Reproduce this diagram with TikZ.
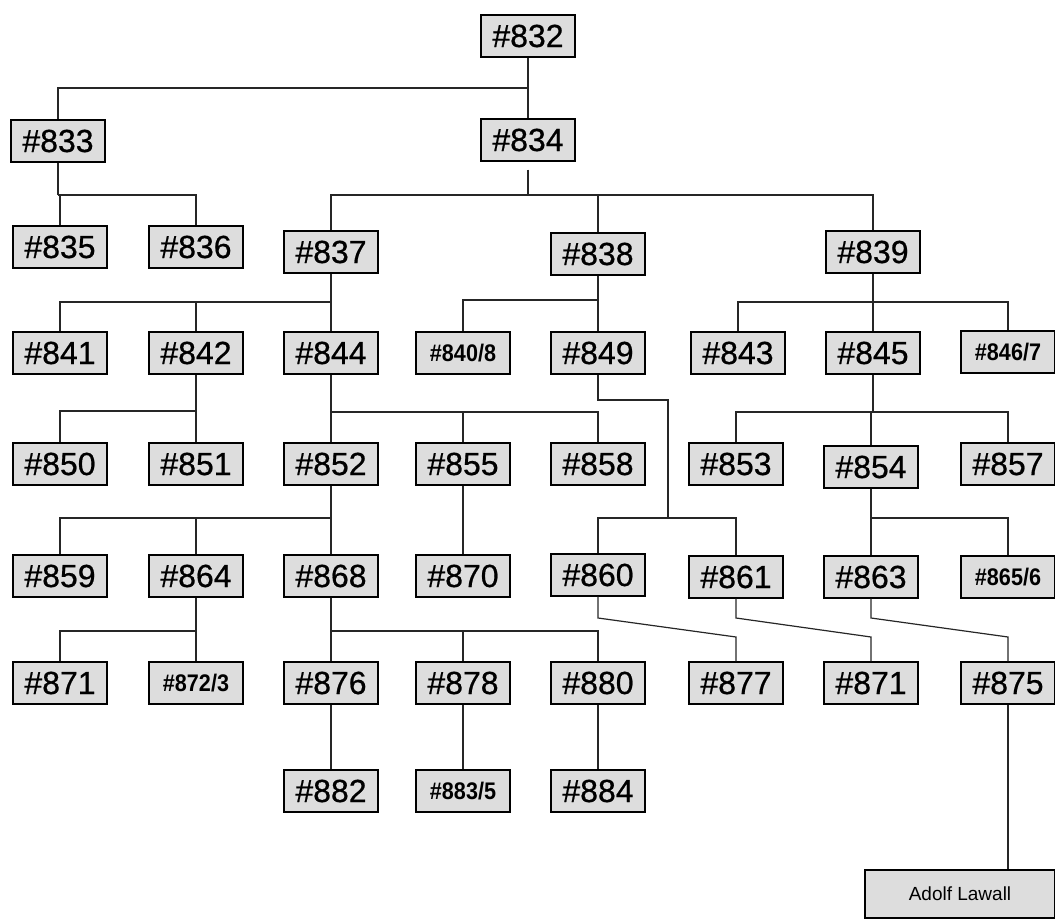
\documentclass[tikz,border=0pt]{standalone}
\usepackage{fontspec}
\setmainfont{Liberation Sans}
\usepackage{tikz}
\usetikzlibrary{positioning,calc}
\definecolor{boxgray}{HTML}{DDDDDD}
\newfontfamily\heavyfam[FakeBold=0.6]{Liberation Sans}
\newfontfamily\boldfam[FakeStretch=0.9]{Liberation Sans Bold}
\newcommand{\bigfont}{\heavyfam\fontsize{32}{32}\selectfont}
\newcommand{\smallfont}{\boldfam\fontsize{24}{24}\selectfont}
\newcommand{\namefont}{\fontsize{19}{19}\selectfont}
\tikzset{
  pbox/.style={draw=black,fill=boxgray,line width=1.3pt,minimum width=94pt,minimum height=42pt,inner sep=0pt,font=\bigfont},
  sbox/.style={pbox,font=\smallfont},
  nbox/.style={pbox,minimum width=190pt,minimum height=48pt,font=\namefont},
  link/.style={line width=1.2pt,draw=black!85}
}
\begin{document}
\begin{tikzpicture}[x=1pt,y=-1pt]
  \useasboundingbox (0,0) rectangle (1055,923);
  % boxes, row by row
  \node[pbox] (n832) at (528,36) {\#832};
  \node[pbox] (n833) at (58,141) {\#833};
  \node[pbox] (n834) at (528,140) {\#834};
  \node[pbox] (n835) at (60,247) {\#835};
  \node[pbox] (n836) at (196,247) {\#836};
  \node[pbox] (n837) at (331,252) {\#837};
  \node[pbox] (n838) at (598,254) {\#838};
  \node[pbox] (n839) at (873,252) {\#839};
  \node[pbox] (n841) at (60,353) {\#841};
  \node[pbox] (n842) at (196,353) {\#842};
  \node[pbox] (n844) at (331,353) {\#844};
  \node[sbox] (n840) at (463,353) {\#840/8};
  \node[pbox] (n849) at (598,353) {\#849};
  \node[pbox] (n843) at (738,353) {\#843};
  \node[pbox] (n845) at (873,353) {\#845};
  \node[sbox] (n846) at (1008,352) {\#846/7};
  \node[pbox] (n850) at (60,464) {\#850};
  \node[pbox] (n851) at (196,464) {\#851};
  \node[pbox] (n852) at (331,464) {\#852};
  \node[pbox] (n855) at (463,464) {\#855};
  \node[pbox] (n858) at (598,464) {\#858};
  \node[pbox] (n853) at (736,464) {\#853};
  \node[pbox] (n854) at (871,467) {\#854};
  \node[pbox] (n857) at (1008,464) {\#857};
  \node[pbox] (n859) at (60,576) {\#859};
  \node[pbox] (n864) at (196,576) {\#864};
  \node[pbox] (n868) at (331,576) {\#868};
  \node[pbox] (n870) at (463,576) {\#870};
  \node[pbox] (n860) at (598,575) {\#860};
  \node[pbox] (n861) at (736,577) {\#861};
  \node[pbox] (n863) at (871,577) {\#863};
  \node[sbox] (n865) at (1008,577) {\#865/6};
  \node[pbox] (n871a) at (60,683) {\#871};
  \node[sbox] (n872) at (196,683) {\#872/3};
  \node[pbox] (n876) at (331,683) {\#876};
  \node[pbox] (n878) at (463,683) {\#878};
  \node[pbox] (n880) at (598,683) {\#880};
  \node[pbox] (n877) at (736,683) {\#877};
  \node[pbox] (n871b) at (871,683) {\#871};
  \node[pbox] (n875) at (1008,683) {\#875};
  \node[pbox] (n882) at (331,791) {\#882};
  \node[sbox] (n883) at (463,791) {\#883/5};
  \node[pbox] (n884) at (598,791) {\#884};
  \node[nbox] (nadolf) at (960,894) {Adolf Lawall};
  % connectors
  \draw[link] (n832.south) -- (n834.north);
  \draw[link] (n832.south |- 0,88) -| (n833.north);
  \draw[link] (n833.south) -- (n833.south |- 0,195);
  \draw[link] (n833.south |- 0,195) -| (n835.north);
  \draw[link] (n833.south |- 0,195) -| (n836.north);
  \draw[link] ([yshift=-8pt]n834.south) -- (n834.south |- 0,195);
  \draw[link] (n834.south |- 0,195) -| (n837.north);
  \draw[link] (n834.south |- 0,195) -| (n838.north);
  \draw[link] (n834.south |- 0,195) -| (n839.north);
  \draw[link] (n837.south) -- (n837.south |- 0,302);
  \draw[link] (n837.south |- 0,302) -| (n841.north);
  \draw[link] (n837.south |- 0,302) -| (n842.north);
  \draw[link] (n837.south |- 0,302) -| (n844.north);
  \draw[link] (n838.south) -- (n838.south |- 0,300);
  \draw[link] (n838.south |- 0,300) -| (n840.north);
  \draw[link] (n838.south |- 0,300) -| (n849.north);
  \draw[link] (n839.south) -- (n839.south |- 0,302);
  \draw[link] (n839.south |- 0,302) -| (n843.north);
  \draw[link] (n839.south |- 0,302) -| (n845.north);
  \draw[link] (n839.south |- 0,302) -| (n846.north);
  \draw[link] (n842.south) -- (n842.south |- 0,411);
  \draw[link] (n842.south |- 0,411) -| (n850.north);
  \draw[link] (n842.south |- 0,411) -| (n851.north);
  \draw[link] (n844.south) -- (n844.south |- 0,412);
  \draw[link] (n844.south |- 0,412) -| (n852.north);
  \draw[link] (n844.south |- 0,412) -| (n855.north);
  \draw[link] (n844.south |- 0,412) -| (n858.north);
  \draw[link] (n845.south) -- (n845.south |- 0,412);
  \draw[link] (n845.south |- 0,412) -| (n853.north);
  \draw[link] (n845.south |- 0,412) -| (n854.north);
  \draw[link] (n845.south |- 0,412) -| (n857.north);
  \coordinate (j849) at (668,518);
  \draw[link] (n849.south) |- (j849 |- 0,400) -- (j849) -| (n860.north);
  \draw[link] (j849) -| (n861.north);
  \draw[link] (n852.south) -- (n852.south |- 0,518);
  \draw[link] (n852.south |- 0,518) -| (n859.north);
  \draw[link] (n852.south |- 0,518) -| (n864.north);
  \draw[link] (n852.south |- 0,518) -| (n868.north);
  \draw[link] (n855.south) -- (n870.north);
  \draw[link] (n854.south) -- (n854.south |- 0,518);
  \draw[link] (n854.south |- 0,518) -| (n863.north);
  \draw[link] (n854.south |- 0,518) -| (n865.north);
  \draw[link] (n864.south) -- (n864.south |- 0,631);
  \draw[link] (n864.south |- 0,631) -| (n871a.north);
  \draw[link] (n864.south |- 0,631) -| (n872.north);
  \draw[link] (n868.south) -- (n868.south |- 0,631);
  \draw[link] (n868.south |- 0,631) -| (n876.north);
  \draw[link] (n868.south |- 0,631) -| (n878.north);
  \draw[link] (n868.south |- 0,631) -| (n880.north);
  \draw[link] (n860.south) -- (n860.south |- 0,618) -- (n877.north |- 0,637) -- (n877.north);
  \draw[link] (n861.south) -- (n861.south |- 0,618) -- (n871b.north |- 0,637) -- (n871b.north);
  \draw[link] (n863.south) -- (n863.south |- 0,618) -- (n875.north |- 0,637) -- (n875.north);
  \draw[link] (n876.south) -- (n882.north);
  \draw[link] (n878.south) -- (n883.north);
  \draw[link] (n880.south) -- (n884.north);
  \draw[link] (n875.south) -- (n875.south |- nadolf.north);
\end{tikzpicture}
\end{document}
